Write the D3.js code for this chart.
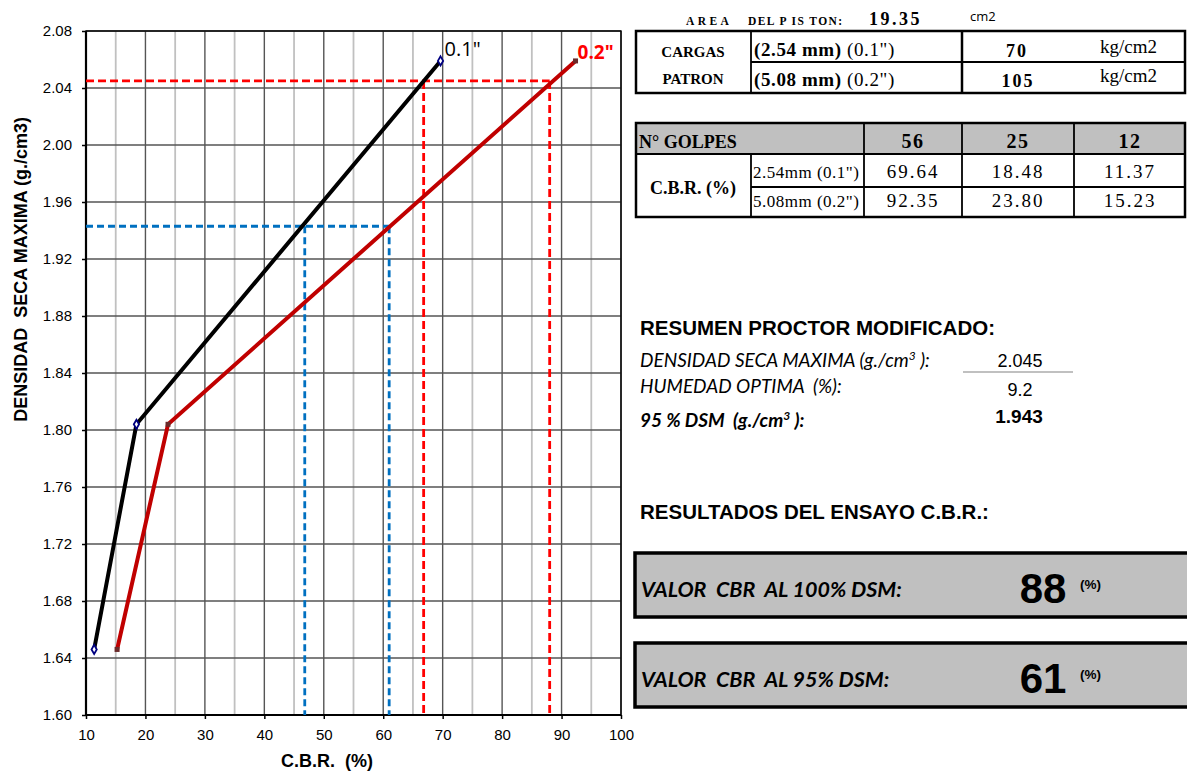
<!DOCTYPE html>
<html><head><meta charset="utf-8">
<script src="https://cdn.jsdelivr.net/npm/d3@7"></script>
<style>body{margin:0;background:#fff}svg{display:block}text{white-space:pre}</style>
</head><body><svg id="c" width="1187" height="775"></svg>
<script>
// ---- data ----
const xTicks = [10,20,30,40,50,60,70,80,90,100];
const yTicks = [1.60,1.64,1.68,1.72,1.76,1.80,1.84,1.88,1.92,1.96,2.00,2.04,2.08];
const density = [1.646, 1.804, 2.059];
const cbr01 = [11.37, 18.48, 69.64];
const cbr02 = [15.23, 23.80, 92.35];
const dsm100 = 2.045, dsm95 = 1.943;
const cbrAt100 = [66.8, 88.0];
const cbrAt95 = [46.8, 61.0];
const golpes = ["56","25","12"];
const cbrRow01 = ["69.64","18.48","11.37"];
const cbrRow02 = ["92.35","23.80","15.23"];

const svg = d3.select("#c");
const L=86,R=621,T=31,B=715;
const x = d3.scaleLinear().domain([10,100]).range([L,R]);
const y = d3.scaleLinear().domain([1.60,2.08]).range([B,T]);
const sans="Liberation Sans, Arial, sans-serif";

// grid
const g = svg.append("g");
d3.range(15,100,10).forEach(v=>g.append("line").attr("x1",x(v)).attr("x2",x(v)).attr("y1",T).attr("y2",B).attr("stroke","#c0c0c0").attr("stroke-width",1.8));
xTicks.forEach(v=>g.append("line").attr("x1",x(v)).attr("x2",x(v)).attr("y1",T).attr("y2",B).attr("stroke","#555").attr("stroke-width",1.4));
yTicks.forEach(v=>g.append("line").attr("x1",L).attr("x2",R).attr("y1",y(v)).attr("y2",y(v)).attr("stroke","#555").attr("stroke-width",1.4));
g.append("rect").attr("x",L).attr("y",T).attr("width",R-L).attr("height",B-T).attr("fill","none").attr("stroke","#000").attr("stroke-width",1.4);
svg.append("line").attr("x1",L).attr("x2",L).attr("y1",T).attr("y2",B).attr("stroke","#000").attr("stroke-width",2.2);
svg.append("line").attr("x1",L).attr("x2",R).attr("y1",B).attr("y2",B).attr("stroke","#000").attr("stroke-width",2.2);

// axes
const xa = svg.append("g").attr("transform",`translate(0,${B})`).call(d3.axisBottom(x).tickValues(xTicks).tickSize(4).tickPadding(10).tickFormat(d3.format("d")));
const ya = svg.append("g").attr("transform",`translate(${L},0)`).call(d3.axisLeft(y).tickValues(yTicks).tickSize(4).tickPadding(10).tickFormat(d3.format(".2f")));
[xa,ya].forEach(a=>{a.select(".domain").remove();a.selectAll("line").attr("stroke","#000").attr("stroke-width",1.5);a.selectAll("text").attr("font-family",sans).attr("font-size",15).attr("fill","#000");});
svg.append("text").attr("x",327).attr("y",767).attr("text-anchor","middle").attr("font-family",sans).attr("font-weight","bold").attr("font-size",18).text("C.B.R.  (%)");
svg.append("text").attr("transform","translate(27,117) rotate(-90)").attr("text-anchor","end").attr("font-family",sans).attr("font-weight","bold").attr("font-size",18).text("DENSIDAD  SECA MAXIMA (g./cm3)");

// reference dashed lines
const dl=(x1,y1,x2,y2,c,da)=>svg.append("line").attr("x1",x1).attr("y1",y1).attr("x2",x2).attr("y2",y2).attr("stroke",c).attr("stroke-width",2.8).attr("stroke-dasharray",da);
dl(L,y(dsm100),x(cbrAt100[1]),y(dsm100),"#ff0000","8,4");
cbrAt100.forEach(v=>dl(x(v),y(dsm100),x(v),B,"#ff0000","8,4"));
dl(L,y(dsm95),x(cbrAt95[1]),y(dsm95),"#0070c0","7,4");
cbrAt95.forEach(v=>dl(x(v),y(dsm95),x(v),B,"#0070c0","7,4"));

// data lines
const line = d3.line().x(d=>x(d[0])).y(d=>y(d[1]));
const s1 = cbr01.map((v,i)=>[v,density[i]]);
const s2 = cbr02.map((v,i)=>[v,density[i]]);
svg.append("path").attr("d",line(s1)).attr("fill","none").attr("stroke","#000").attr("stroke-width",4);
svg.append("path").attr("d",line(s2)).attr("fill","none").attr("stroke","#c00000").attr("stroke-width",4);
svg.selectAll(".m1").data(s1).enter().append("path").attr("d",d3.symbol(d3.symbolDiamond,24)()).attr("transform",d=>`translate(${x(d[0])},${y(d[1])})`).attr("fill","#fff").attr("stroke","#000080").attr("stroke-width",1.8);
svg.selectAll(".m2").data(s2).enter().append("rect").attr("x",d=>x(d[0])-2.5).attr("y",d=>y(d[1])-2.5).attr("width",5).attr("height",5).attr("fill","#6b2a2a");
svg.append("text").attr("x",x(cbr01[2])+4).attr("y",56).attr("font-family","Open Sans, Liberation Sans").attr("font-size",20).attr("fill","#000").text('0.1"');
svg.append("text").attr("x",x(cbr02[2])+2).attr("y",59).attr("font-family","Open Sans, Liberation Sans").attr("font-weight","bold").attr("font-size",19).attr("fill","#ff0000").text('0.2"');

// ---- right panel ----
const serif="Liberation Serif, Times New Roman, serif";
const txt=(xx,yy,t,o={})=>{const e=svg.append("text").attr("x",xx).attr("y",yy).attr("font-family",o.f||serif).attr("font-size",o.s||14).attr("fill",o.c||"#000").attr("text-anchor",o.a||"start").text(t);if(o.b)e.attr("font-weight","bold");if(o.i)e.attr("font-style","italic");if(o.ls)e.attr("letter-spacing",o.ls);return e;};
const ln=(x1,y1,x2,y2,w,c)=>svg.append("line").attr("x1",x1).attr("y1",y1).attr("x2",x2).attr("y2",y2).attr("stroke",c||"#000").attr("stroke-width",w||1);

txt(686,25,"AREA",{s:11.5,b:true,ls:3.4});
txt(748,25,"DEL P IS TON:",{s:11.5,b:true,ls:1.4});
txt(869,25,"19.35",{s:18,b:true,ls:2.5});
txt(970,21,"cm2",{s:13,f:"Open Sans, Liberation Sans"});
// table 1
svg.append("rect").attr("x",636).attr("y",31).attr("width",549).attr("height",62).attr("fill","none").attr("stroke","#000").attr("stroke-width",2.5);
ln(751,31,751,93,1.8);ln(962,31,962,93,2.5);ln(751,62,1185,62,1.8);
txt(693,57,"CARGAS",{s:15,b:true,a:"middle"});
txt(693,84,"PATRON",{s:15,b:true,a:"middle"});
const r1=txt(754,56,"",{s:19,ls:0.6});r1.append("tspan").attr("font-weight","bold").text("(2.54 mm)");r1.append("tspan").text(' (0.1")');
const r2=txt(754,86,"",{s:19,ls:0.6});r2.append("tspan").attr("font-weight","bold").text("(5.08 mm)");r2.append("tspan").text(' (0.2")');
txt(1017,57,"70",{s:18,b:true,a:"middle",ls:2});
txt(1018,87,"105",{s:18,b:true,a:"middle",ls:2});
txt(1100,53,"kg/cm2",{s:19});
txt(1100,82,"kg/cm2",{s:19});
// table 2
svg.append("rect").attr("x",636).attr("y",123).attr("width",549).attr("height",31).attr("fill","#c0c0c0");
svg.append("rect").attr("x",636).attr("y",123).attr("width",549).attr("height",94).attr("fill","none").attr("stroke","#000").attr("stroke-width",2.5);
ln(636,154,1185,154,1.8);ln(751,187,1185,187,1.8);ln(751,154,751,217,1.8);
[864,962,1074].forEach(v=>ln(v,123,v,217,1.8));
txt(639,148,"N° GOLPES",{s:18,b:true});
const cx=[913,1018,1130];
golpes.forEach((t,i)=>txt(cx[i],148,t,{s:20,b:true,a:"middle",ls:1.5}));
txt(693,194,"C.B.R. (%)",{s:18,b:true,a:"middle"});
txt(753,178,'2.54mm (0.1")',{s:17,ls:0.5});
txt(753,207,'5.08mm (0.2")',{s:17,ls:0.5});
cbrRow01.forEach((t,i)=>txt(cx[i],178,t,{s:19,a:"middle",ls:2}));
cbrRow02.forEach((t,i)=>txt(cx[i],207,t,{s:19,a:"middle",ls:2}));

// resumen
const cal="Lato, Open Sans, sans-serif";
txt(640,335,"RESUMEN PROCTOR MODIFICADO:",{f:sans,s:20.5,b:true});
const d1=txt(640,367,"DENSIDAD SECA MAXIMA (g./cm",{f:cal,s:19,i:true});d1.append("tspan").attr("dy",-7).attr("font-size",12).text("3");d1.append("tspan").attr("dy",7).text(" ):");
txt(1020,367,"2.045",{f:sans,s:18,a:"middle"});
ln(963,372,1073,372,2,"#c0c0c0");
txt(640,393,"HUMEDAD OPTIMA  (%):",{f:cal,s:19,i:true});
txt(1020,396,"9.2",{f:sans,s:18,a:"middle"});
const d3t=txt(640,427,"95 % DSM  (g./cm",{f:cal,s:19,i:true,b:true});d3t.append("tspan").attr("dy",-7).attr("font-size",12).text("3");d3t.append("tspan").attr("dy",7).text(" ):");
txt(1019,423,"1.943",{f:sans,s:19,b:true,a:"middle"});

txt(640,519,"RESULTADOS DEL ENSAYO C.B.R.:",{f:sans,s:20.5,b:true});
const boxes=[{y:553,lab:"VALOR  CBR  AL 100% DSM:",v:"88"},{y:643,lab:"VALOR  CBR  AL 95% DSM:",v:"61"}];
boxes.forEach(bx=>{
  svg.append("rect").attr("x",635).attr("y",bx.y).attr("width",556).attr("height",64).attr("fill","#c0c0c0").attr("stroke","#000").attr("stroke-width",3.5);
  txt(641,bx.y+44,bx.lab,{f:cal,s:21.5,i:true,b:true});
  txt(1043,bx.y+50,bx.v,{f:sans,s:42,b:true,a:"middle"});
  txt(1080,bx.y+36,"(%)",{f:sans,s:13.5,b:true});
});
</script></body></html>
